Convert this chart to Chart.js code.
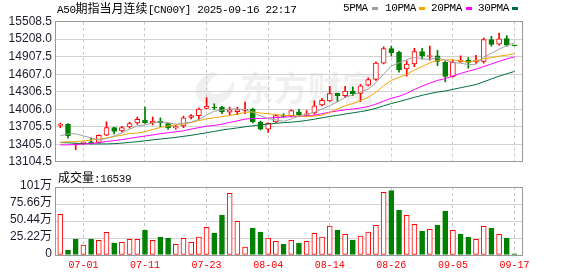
<!DOCTYPE html>
<html>
<head>
<meta charset="utf-8">
<script src="https://cdn.jsdelivr.net/npm/chart.js@4.4.1/dist/chart.umd.min.js"></script>
<style>
  body { margin: 0; background: #fff; width: 578px; height: 276px; overflow: hidden; position: relative; }
  canvas { position: absolute; left: 0; }
  #kline { top: 0; }
  #vol { top: 172px; }
  .txt { position: absolute; white-space: nowrap; font-family: 'Liberation Mono', 'Noto Sans CJK SC', monospace;
         font-size: 11px; line-height: 12px; letter-spacing: -0.4px; color: #000; }
  .cjk { font-family: 'Noto Sans CJK SC', sans-serif; font-size: 12px; letter-spacing: 0; }
  .sw { position: absolute; width: 6px; height: 3px; top: 7px; }
</style>
</head>
<body>
<canvas id="kline" width="578" height="172"></canvas>
<canvas id="vol" width="578" height="104"></canvas>

<div class="txt" style="left:57px;top:2px">A50<span class="cjk">期指当月连续</span>[CN00Y] 2025-09-16 22:17</div>
<div class="txt" style="left:343px;top:2px">5PMA</div><div class="sw" style="left:372px;background:#a0a0a0"></div>
<div class="txt" style="left:385px;top:2px">10PMA</div><div class="sw" style="left:419px;background:#f5a400"></div>
<div class="txt" style="left:431px;top:2px">20PMA</div><div class="sw" style="left:466px;background:#ff00ff"></div>
<div class="txt" style="left:478px;top:2px">30PMA</div><div class="sw" style="left:512px;background:#00703c"></div>
<div class="txt" id="volLabel" style="left:58px;top:171px"></div>

<script>
// trading days shown (one candle per day)
const dates = ['06-26','06-27','06-30','07-01','07-02','07-03','07-04','07-07','07-08','07-09',
  '07-10','07-11','07-14','07-15','07-16','07-17','07-18','07-21','07-22','07-23',
  '07-24','07-25','07-28','07-29','07-30','07-31','08-01','08-04','08-05','08-06',
  '08-07','08-08','08-11','08-12','08-13','08-14','08-15','08-18','08-19','08-20',
  '08-21','08-22','08-25','08-26','08-27','08-28','08-29','09-01','09-02','09-03',
  '09-04','09-05','09-08','09-09','09-10','09-11','09-12','09-15','09-16','09-17'];

const openP = [13730,13747,13401,13423,13440,13435,13562,13691,13636,13703,
  13770,13821,13770,13797,13759,13691,13720,13864,13898,14022,
  14044,14044,13955,13965,13988,14010,13787,13663,13787,13904,
  13898,13960,13901,13943,14082,14149,14278,14240,14317,14278,
  14418,14518,14798,15045,14988,14698,14782,14994,14911,14924,
  14810,14569,14827,14849,14827,14827,15201,15122,15217,15100];
const highP = [13770,13759,13415,13452,13512,13569,13792,13696,13713,13787,
  13871,14044,13871,13859,13764,13730,13888,13915,14027,14206,
  14099,14055,14044,14044,14127,14027,13804,13775,13915,13931,
  13998,14005,13982,14149,14195,14401,14283,14401,14391,14429,
  14547,14820,15078,15088,15005,14837,15050,15050,15088,15016,
  14827,14849,14921,14894,14932,15229,15256,15313,15268,15100];
const lowP = [13691,13512,13314,13401,13406,13423,13552,13582,13619,13680,
  13747,13764,13737,13708,13658,13663,13691,13842,13831,14015,
  13998,13931,13915,13915,13931,13770,13653,13608,13775,13871,
  13876,13881,13888,13921,14065,14139,14139,14206,14240,14139,
  14408,14501,14782,14921,14642,14572,14736,14865,14849,14753,
  14475,14558,14810,14709,14793,14798,15088,15105,15088,15092];
const closeP = [13742,13552,13411,13440,13428,13557,13691,13624,13691,13759,
  13831,13775,13804,13775,13691,13703,13859,13898,14010,14060,
  14027,13965,13998,14002,14010,13787,13663,13764,13898,13881,
  13982,13915,13926,14065,14161,14273,14240,14317,14273,14408,
  14513,14798,15045,14978,14681,14782,14994,14921,14924,14827,
  14569,14810,14849,14810,14849,15201,15117,15212,15105,15095];

const ma5 = [13552,13582,13586,13549,13515,13478,13505,13548,13598,13664,
  13719,13736,13772,13789,13775,13750,13766,13785,13832,13906,
  13971,13992,14012,14010,14000,13952,13892,13845,13824,13799,
  13838,13888,13920,13954,14010,14068,14133,14211,14253,14302,
  14350,14462,14607,14748,14803,14857,14896,14871,14860,14890,
  14847,14810,14796,14773,14777,14904,14965,15038,15097,15146];
const ma10 = [13440,13445,13452,13462,13477,13494,13512,13536,13562,13590,
  13598,13621,13660,13694,13720,13734,13751,13779,13811,13841,
  13860,13879,13899,13921,13953,13962,13942,13929,13917,13900,
  13895,13890,13883,13889,13904,13953,14011,14066,14103,14156,
  14209,14297,14409,14501,14553,14604,14679,14739,14804,14846,
  14852,14853,14834,14817,14834,14875,14888,14917,14935,14962];
const ma20 = [13395,13395,13401,13410,13418,13435,13452,13468,13485,13507,
  13527,13546,13566,13586,13603,13619,13636,13666,13691,13715,
  13729,13750,13779,13807,13837,13848,13847,13854,13864,13870,
  13878,13885,13891,13905,13929,13957,13976,13997,14010,14028,
  14052,14094,14146,14195,14228,14278,14345,14403,14454,14501,
  14531,14575,14621,14659,14693,14739,14783,14828,14870,14904];
const ma30 = [13435,13430,13423,13416,13413,13411,13411,13416,13425,13437,
  13450,13465,13480,13495,13509,13524,13541,13559,13581,13603,
  13626,13650,13668,13686,13705,13722,13738,13752,13765,13776,
  13785,13797,13814,13835,13859,13883,13901,13924,13944,13965,
  13988,14022,14064,14104,14137,14173,14211,14245,14275,14301,
  14319,14347,14375,14402,14430,14477,14526,14574,14614,14655];

// volume in lots, and whether the bar is drawn as an up (red) bar
const volume = [604000,74000,237000,148000,237000,218000,336000,178000,188000,232000,
  232000,371000,218000,267000,252000,158000,247000,188000,267000,411000,
  326000,593000,915000,500000,119000,400000,341000,252000,203000,163000,
  218000,178000,203000,322000,267000,430000,371000,307000,223000,282000,
  341000,440000,930000,954000,668000,589000,455000,356000,381000,445000,
  653000,366000,312000,267000,233000,426000,400000,307000,252000,16539];
const volUp = [1,0,0,1,0,1,1,0,1,1, 1,0,1,0,0,1,1,1,1,1, 0,0,1,1,1,0,0,1,1,0,
  1,0,1,1,1,1,0,1,0,1, 1,1,1,0,0,1,1,0,1,0, 0,1,0,0,1,1,0,1,0,0];

const priceTicks = [13104.5,13405.0,13705.5,14006.0,14306.5,14607.0,14907.5,15208.0,15508.5];
const volTicks = [0,252200,504400,756600,1008800];
const volTickLabels = ['0','25.22万','50.44万','75.66万','101万'];
const gridIdx = [3,11,19,27,35,43,51,59];

const RED = '#ff0000', GREEN = '#008000';
const X_MIN = -0.69, X_MAX = 60.04;

const up = closeP.map((c, i) => c >= openP[i]);
const pts = arr => arr.map((v, i) => ({ x: i, y: v }));

const framePlugin = {
    id: 'frame',
    afterDraw(chart) {
        const { ctx, chartArea: a } = chart;
        const al = p => Math.round(p - 0.5) + 0.5;
        ctx.save();
        ctx.strokeStyle = '#999';
        ctx.lineWidth = 1;
        ctx.strokeRect(al(a.left), al(a.top), al(a.right) - al(a.left), al(a.bottom) - al(a.top));
        ctx.restore();
    },
};

// faint site watermark behind the candles
const watermarkPlugin = {
    id: 'watermark',
    beforeDraw(chart) {
        const { ctx } = chart;
        ctx.save();
        ctx.fillStyle = 'rgba(0,0,0,0.06)';
        ctx.beginPath();
        ctx.ellipse(215, 88, 20, 16, -0.5, 0.3, Math.PI * 1.6);
        ctx.ellipse(220, 84, 13, 9, -0.5, Math.PI * 1.6, 0.3, true);
        ctx.closePath();
        ctx.fill();
        ctx.font = 'bold 34px "Noto Sans CJK SC"';
        ctx.textBaseline = 'middle';
        ctx.fillText('东方财富', 240, 88);
        ctx.restore();
    },
};

const xScale = showLabels => ({
    type: 'linear',
    min: X_MIN,
    max: X_MAX,
    offset: false,
    afterBuildTicks: s => { s.ticks = gridIdx.map(v => ({ value: v })); },
    afterFit: s => { s.height = showLabels ? 21 : 0; },
    ticks: {
        display: showLabels,
        padding: 4,
        color: RED,
        font: { family: 'Liberation Mono', size: 10 },
        maxRotation: 0,
        autoSkip: false,
        callback: v => dates[v],
    },
    grid: { color: '#c8c8c8', drawTicks: false, offset: false },
    border: { display: false, dash: [3, 3] },
});

new Chart(document.getElementById('kline'), {
    type: 'bar',
    data: {
        datasets: [
            { type: 'line', data: pts(ma5), borderColor: '#a0a0a0', borderWidth: 1, pointRadius: 0, order: 1 },
            { type: 'line', data: pts(ma10), borderColor: '#f5a400', borderWidth: 1, pointRadius: 0, order: 1 },
            { type: 'line', data: pts(ma20), borderColor: '#ff00ff', borderWidth: 1, pointRadius: 0, order: 1 },
            { type: 'line', data: pts(ma30), borderColor: '#00703c', borderWidth: 1, pointRadius: 0, order: 1 },
            {
                data: openP.map((o, i) => ({ x: i, y: [o, closeP[i]] })),
                backgroundColor: up.map(u => (u ? '#ffffff' : GREEN)),
                borderColor: up.map(u => (u ? RED : GREEN)),
                borderWidth: 1,
                borderSkipped: false,
                barThickness: 5,
                minBarLength: 1,
                grouped: false,
                order: 5,
            },
            {
                data: lowP.map((l, i) => ({ x: i, y: [l, highP[i]] })),
                backgroundColor: up.map(u => (u ? RED : GREEN)),
                borderWidth: 0,
                barThickness: 1,
                grouped: false,
                order: 6,
            },
        ],
    },
    options: {
        responsive: false,
        animation: false,
        events: [],
        layout: { padding: { left: 0, right: 55.5, top: 21.67, bottom: 7 } },
        plugins: { legend: { display: false }, tooltip: { enabled: false } },
        scales: {
            x: xScale(false),
            y: {
                min: priceTicks[0],
                max: priceTicks[priceTicks.length - 1],
                afterBuildTicks: s => { s.ticks = priceTicks.map(v => ({ value: v })); },
                afterFit: s => { s.width = 55; },
                ticks: {
                    padding: 3,
                    autoSkip: false,
                    color: '#1c1c2c',
                    font: { family: 'Liberation Sans', size: 12 },
                    callback: v => v.toFixed(1),
                },
                grid: { color: '#d2d2d2', drawTicks: false },
                border: { display: false },
            },
        },
    },
    plugins: [watermarkPlugin, framePlugin],
});

new Chart(document.getElementById('vol'), {
    type: 'bar',
    data: {
        datasets: [{
            data: pts(volume),
            backgroundColor: volUp.map(u => (u ? '#ffffff' : GREEN)),
            borderColor: volUp.map(u => (u ? RED : GREEN)),
            borderWidth: 1,
            borderSkipped: false,
            barThickness: 5,
            grouped: false,
        }],
    },
    options: {
        responsive: false,
        animation: false,
        events: [],
        layout: { padding: { left: 0, right: 55.5, top: 15, bottom: 0 } },
        plugins: { legend: { display: false }, tooltip: { enabled: false } },
        scales: {
            x: xScale(true),
            y: {
                min: volTicks[0],
                max: volTicks[volTicks.length - 1],
                afterBuildTicks: s => { s.ticks = volTicks.map(v => ({ value: v })); },
                afterFit: s => { s.width = 55; },
                ticks: {
                    padding: 3,
                    autoSkip: false,
                    labelOffset: -1,
                    color: '#1c1c2c',
                    font: { family: "'Liberation Sans', 'Noto Sans CJK SC'", size: 12 },
                    callback: (v, i) => volTickLabels[i],
                },
                grid: { color: '#d2d2d2', drawTicks: false },
                border: { display: false },
            },
        },
    },
    plugins: [framePlugin],
});

document.getElementById('volLabel').innerHTML =
    '<span class="cjk">成交量</span>:' + volume[volume.length - 1];
</script>
</body>
</html>
